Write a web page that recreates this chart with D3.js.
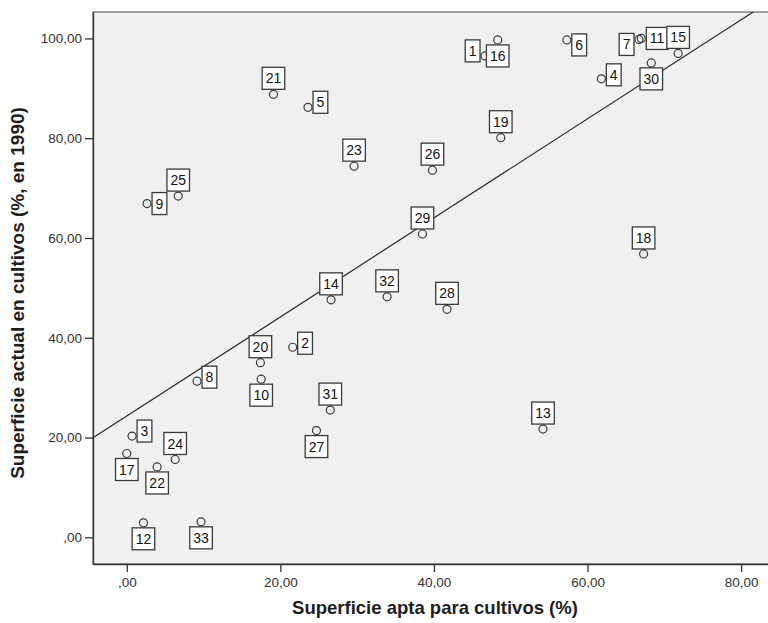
<!DOCTYPE html>
<html lang="es">
<head>
    <meta charset="UTF-8">
    <title>Superficie cultivos</title>
    <style>
        body {
            margin: 0;
            background-color: #ffffff;
        }

        text.tick-label {
            font-family: "Liberation Sans", Arial, sans-serif;
            font-size: 13.5px;
            fill: #333333;
        }

        text.axis-title {
            font-family: "Liberation Sans", Arial, sans-serif;
            font-size: 18.5px;
            font-weight: bold;
            fill: #1e1e1e;
        }

        text.case-label {
            font-family: "Liberation Sans Narrow", "Arial Narrow", "Liberation Sans", Arial, sans-serif;
            font-size: 14px;
            fill: #111111;
        }
    </style>
    <script src="https://cdn.jsdelivr.net/npm/d3@7"></script>
</head>
<body>
<div id="chart"></div>
<script type="text/javascript">
    // case numbers, x = superficie apta (%), y = superficie actual en cultivos (%, 1990)
    var caseIds = [1, 2, 3, 4, 5, 6, 7, 8, 9, 10, 11, 12, 13, 14, 15, 16, 17,
        18, 19, 20, 21, 22, 23, 24, 25, 26, 27, 28, 29, 30, 31, 32, 33];
    var aptaValues = [46.65, 21.6, 0.69, 61.8, 23.6, 57.3, 66.7, 9.15, 2.64, 17.5, 67.0, 2.17, 54.2, 26.6, 71.8, 48.3, 0.0,
        67.3, 48.7, 17.4, 19.1, 3.95, 29.6, 6.3, 6.7, 39.8, 24.7, 41.7, 38.5, 68.3, 26.5, 33.9, 9.67];
    var actualValues = [96.5, 38.1, 20.3, 91.9, 86.2, 99.7, 99.8, 31.3, 66.9, 31.7, 100.0, 2.9, 21.7, 47.6, 97.0, 99.7, 16.8,
        56.8, 80.1, 35.0, 88.8, 14.1, 74.4, 15.6, 68.4, 73.6, 21.4, 45.7, 60.8, 95.1, 25.5, 48.2, 3.1];
    var xTicks = [0, 20, 40, 60, 80];
    var yTicks = [0, 20, 40, 60, 80, 100];

    // where each case label sits relative to its point (A above, B below, L left, R right) + small vertical nudge
    var labelSide = {
        1: ["L", -5], 2: ["R", -4], 3: ["R", -5], 4: ["R", -4], 5: ["R", -5], 6: ["R", 5], 7: ["L", 5],
        8: ["R", -4], 9: ["R", 0], 10: ["B", 0], 11: ["R", 0], 12: ["B", 0], 13: ["A", 0], 14: ["A", 0],
        15: ["A", 0], 16: ["B", 0], 17: ["B", 0], 18: ["A", 0], 19: ["A", 0], 20: ["A", 0], 21: ["A", 0],
        22: ["B", 0], 23: ["A", 0], 24: ["A", 0], 25: ["A", 0], 26: ["A", 0], 27: ["B", 0], 28: ["A", 0],
        29: ["A", 0], 30: ["B", 0], 31: ["A", 0], 32: ["A", 0], 33: ["B", 0]
    };

    var data = caseIds.map(function (id, i) {
        return {id: id, x: aptaValues[i], y: actualValues[i]};
    });

    const W = 768, H = 623;
    const plot = {left: 93, top: 12, right: 768, bottom: 564};
    const r = 4;

    const svg = d3.select("#chart").append("svg")
        .attr("width", W)
        .attr("height", H);

    var x = d3.scaleLinear().domain([-4.4, 83.5]).range([plot.left, plot.right]);
    var y = d3.scaleLinear().domain([-5.35, 105.3]).range([plot.bottom, plot.top]);

    // plot background
    svg.append("rect")
        .attr("x", plot.left)
        .attr("y", plot.top)
        .attr("width", plot.right - plot.left + 2)
        .attr("height", plot.bottom - plot.top)
        .attr("fill", "#f0f0f0")
        .attr("stroke", "#666666")
        .attr("stroke-width", 1.2);

    svg.append("clipPath").attr("id", "clip")
        .append("rect")
        .attr("x", plot.left)
        .attr("y", plot.top)
        .attr("width", plot.right - plot.left)
        .attr("height", plot.bottom - plot.top);

    var fmt = function (d) { return d === 0 ? ",00" : d3.format(".2f")(d).replace(".", ","); };

    // axes
    var yAxis = svg.append("g")
        .attr("transform", "translate(" + plot.left + ",0)")
        .call(d3.axisLeft(y).tickValues(yTicks).tickSizeInner(8).tickSizeOuter(0).tickPadding(3).tickFormat(fmt));
    var xAxis = svg.append("g")
        .attr("transform", "translate(0," + plot.bottom + ")")
        .call(d3.axisBottom(x).tickValues(xTicks).tickSizeInner(8).tickSizeOuter(0).tickPadding(5).tickFormat(fmt));
    [xAxis, yAxis].forEach(function (g) {
        g.attr("font-size", null).attr("font-family", null);
        g.select(".domain").attr("stroke", "#333333").attr("stroke-width", 1.3);
        g.selectAll(".tick line").attr("stroke", "#333333").attr("stroke-width", 1.3);
        g.selectAll(".tick text").attr("class", "tick-label").attr("fill", null);
    });

    // least squares fit line
    var mx = d3.mean(data, d => d.x), my = d3.mean(data, d => d.y);
    var sxy = d3.sum(data, d => (d.x - mx) * (d.y - my));
    var sxx = d3.sum(data, d => (d.x - mx) * (d.x - mx));
    var slope = sxy / sxx, intercept = my - slope * mx;
    var xs = x.domain();
    svg.append("line")
        .attr("clip-path", "url(#clip)")
        .attr("x1", x(xs[0]))
        .attr("y1", y(intercept + slope * xs[0]))
        .attr("x2", x(xs[1]))
        .attr("y2", y(intercept + slope * xs[1]))
        .attr("stroke", "#2a2a2a")
        .attr("stroke-width", 1.2);

    // points
    svg.append("g").selectAll("circle")
        .data(data)
        .enter().append("circle")
        .attr("cx", d => x(d.x))
        .attr("cy", d => y(d.y))
        .attr("r", r)
        .attr("fill", "none")
        .attr("stroke", "#3a3a3a")
        .attr("stroke-width", 1.2);

    // case labels in boxes
    var lab = svg.append("g").selectAll("g")
        .data(data)
        .enter().append("g");
    lab.append("rect");
    lab.append("text")
        .attr("class", "case-label")
        .attr("text-anchor", "middle")
        .attr("dy", "0.36em")
        .text(d => d.id);
    lab.each(function (d) {
        var g = d3.select(this);
        var tw = g.select("text").node().getComputedTextLength();
        var bw = tw + 7, bh = 22;
        var px = x(d.x), py = y(d.y);
        var side = labelSide[d.id][0], nudge = labelSide[d.id][1];
        var cx = px, cy = py;
        if (side === "A") cy = py - r - 1 - bh / 2;
        if (side === "B") cy = py + r + 1 + bh / 2;
        if (side === "R") { cx = px + r + 1 + bw / 2; cy = py + nudge; }
        if (side === "L") { cx = px - r - 1 - bw / 2; cy = py + nudge; }
        g.attr("transform", "translate(" + cx + "," + cy + ")");
        g.select("rect")
            .attr("x", -bw / 2)
            .attr("y", -bh / 2)
            .attr("width", bw)
            .attr("height", bh)
            .attr("fill", "#ffffff")
            .attr("stroke", "#3a3a3a")
            .attr("stroke-width", 1.3);
    });

    // axis titles
    svg.append("text")
        .attr("class", "axis-title")
        .attr("x", 435)
        .attr("y", 614)
        .attr("text-anchor", "middle")
        .text("Superficie apta para cultivos (%)");
    svg.append("text")
        .attr("class", "axis-title")
        .style("font-size", "19px")
        .attr("transform", "translate(24,293) rotate(-90)")
        .attr("text-anchor", "middle")
        .text("Superficie actual en cultivos (%, en 1990)");
</script>
</body>
</html>
